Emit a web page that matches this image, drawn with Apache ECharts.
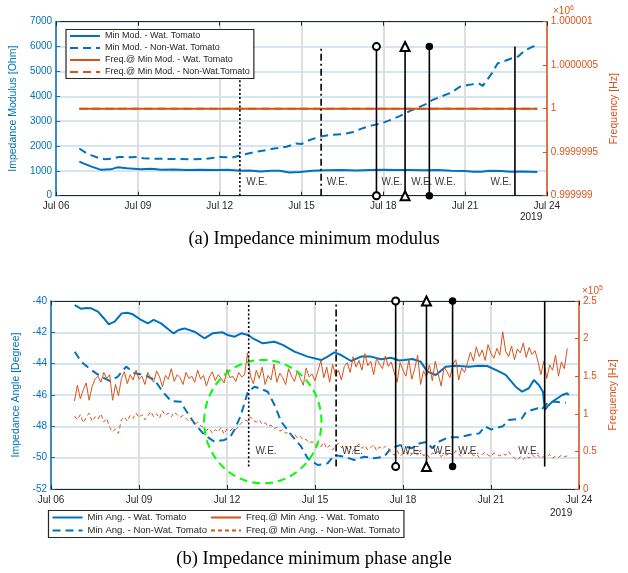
<!DOCTYPE html>
<html><head><meta charset="utf-8">
<script src="https://cdn.jsdelivr.net/npm/echarts@6/dist/echarts.min.js"></script>
<style>html,body{margin:0;padding:0;background:#fff}#c{width:628px;height:573px}</style>
</head><body><div id="c"></div>
<script>
// ================= DATA =================
// x values are days of July 2019
const xTickMonth = 'Jul';
const xMin = 6, xMax = 24, xStep = 3;

// Panel (a) : minimum modulus [Ohm]
const modWatDays = [6.85,7.0,7.3,7.65,8.0,8.25,8.6,9.1,9.5,9.85,10.3,10.8,11.3,11.8,12.3,12.75,13.1,13.5,13.9,14.2,14.55,14.95,15.4,15.9,16.5,17.0,17.5,18.0,18.5,19.0,19.5,20.0,20.5,21.0,21.3,21.6,21.9,22.3,22.7,23.1,23.65];
const modWat     = [1370,1300,1170,1040,1060,1140,1100,1060,1085,1040,1050,1035,1045,1030,1040,1005,1010,970,1000,1005,930,955,1005,1020,1030,1015,1030,1040,1030,1035,1020,1030,1000,990,960,960,1005,990,965,970,950];
const modNonWatDays = [6.85,7.1,7.3,7.55,7.8,8.1,8.3,8.7,9.0,9.2,9.6,10.0,10.5,11.0,11.5,12.0,12.5,12.9,13.35,13.7,14.0,14.45,14.8,15.0,15.3,15.7,16.1,16.5,16.9,17.2,17.6,17.9,18.2,18.6,19.0,19.3,19.6,19.8,20.1,20.5,20.8,21.1,21.5,21.65,21.85,22.0,22.2,22.4,22.7,22.95,23.2,23.45,23.65];
const modNonWat     = [1900,1720,1620,1520,1470,1500,1560,1550,1560,1510,1490,1480,1475,1460,1480,1560,1545,1660,1770,1830,1900,1970,2100,2080,2240,2380,2450,2480,2560,2700,2830,2900,3020,3200,3420,3560,3700,3850,3980,4150,4380,4450,4520,4420,4720,4950,5330,5400,5520,5600,5850,5980,6060];
// frequency at min modulus [Hz]
const freqModDays   = [6.85, 23.65];
const freqModWat    = [1000000, 1000000];
const freqModNonWat = [1000000, 1000000];

// Panel (b) : minimum phase angle [deg]
const angWatDays = [6.81,7.03,7.2,7.37,7.6,7.8,7.97,8.17,8.41,8.6,8.79,9.07,9.3,9.5,9.75,10.0,10.18,10.35,10.55,10.89,11.23,11.51,11.85,12.02,12.26,12.49,12.71,12.88,13.22,13.62,13.9,14.3,14.75,15.21,15.43,15.66,15.89,16.23,16.57,16.91,17.25,17.59,17.87,18.04,18.32,18.6,18.83,19.12,19.46,19.8,20.25,20.59,20.87,21.16,21.5,21.84,22.06,22.29,22.46,22.63,22.77,22.84,22.92,23.09,23.43,23.6,23.65];
const angWat     = [-40.26,-40.5,-40.45,-40.47,-40.68,-41.1,-41.49,-41.32,-40.79,-40.75,-40.85,-41.21,-41.43,-41.21,-41.43,-41.8,-42.07,-41.85,-41.75,-41.96,-42.38,-42.06,-42.0,-42.17,-42.28,-42.06,-42.17,-42.38,-42.7,-42.6,-42.8,-43.23,-43.55,-43.77,-43.55,-43.28,-43.45,-43.83,-43.55,-43.55,-43.72,-43.62,-43.8,-43.77,-43.7,-43.87,-44.51,-44.72,-44.19,-44.13,-44.19,-44.13,-44.15,-44.4,-44.72,-45.47,-45.79,-45.57,-45.04,-45.36,-45.79,-46.96,-46.74,-46.43,-46.0,-45.89,-46.0];
const angNonWatDays = [6.81,7.03,7.37,7.71,8.0,8.28,8.56,8.85,9.19,9.53,9.81,10.09,10.43,10.55,10.89,11.23,11.57,11.91,12.1,12.26,12.45,12.6,12.71,12.94,13.15,13.39,13.62,13.85,14.19,14.53,14.75,15.09,15.43,15.66,16.0,16.34,16.68,17.02,17.36,17.59,17.9,18.3,18.55,18.8,19.0,19.2,19.55,19.9,20.25,20.6,20.8,21.0,21.4,21.6,22.05,22.2,22.6,22.7,22.97,23.2,23.55];
const angNonWat     = [-43.24,-43.87,-44.4,-44.83,-45.1,-44.83,-44.19,-44.61,-44.72,-45.04,-45.79,-46.38,-46.43,-46.85,-47.81,-48.55,-48.98,-48.87,-48.7,-48.2,-47.4,-46.5,-45.8,-45.47,-45.6,-45.79,-46.64,-47.7,-48.55,-49.3,-50.04,-50.47,-50.36,-49.83,-49.94,-50.15,-49.94,-50.04,-49.94,-49.4,-49.2,-49.4,-49.1,-49.0,-49.4,-49.0,-48.7,-48.7,-48.55,-48.45,-48.0,-48.2,-48.0,-47.6,-47.5,-47.07,-46.85,-46.96,-46.43,-46.43,-46.5];
// frequency at min angle [kHz], sampled every 0.1 day from Jul 6.8
const freqAngStart = 6.8, freqAngStep = 0.1;
const freqAngWat = [117,138,120,132,141,118,136,146, 150,142,155,147, 152,118,139,124, 147,156,140,152,145,158,146,
 150,139,155,147,142,157,149,136,151,146,160,143,152,148,139,155,147,150,142,158,146,151,137,149,156,144,152,147,141,159,148,150,143,155,149,
 152,181,150,
 140,158,147,162,139,151,145,166,142,154,148,139,160,150,143,157,147,138,161,149,153,144,
 157,171,148,162,142,166,151,158,145,163,
 168,155,176,162,171,158,180,164,170,152,174,166,160,177,163,169,
 155,142,168,158,150,172,146,160,178,139,157,149,165,144,170,153,137,162,156,148,166,
 172,145,161,155,168,
 182,170,189,176,185,171,192,180,174,187,178,209,183,176,190,172,186,181,194,175,188,179,184,170,
 152,170,147,165,158,178,150,169,160,187];
const freqAngNonWat = [97,92,99,88,95,101,90,96,93,100,89,94, 82,76,80,74,
 92,96,90,98,94,101,95,99,92,97,103,96,100,94,104,98,101,96,102,99,95,98,
 94,90,92,86,89,84,82, 78,81,74,79,76,82,73,80,77,81,79, 84,88,92,90,96,91,
 89,92,86,88,83,85,80,82,77,79,74,76,71,73,68,70,65,66,61,63,58,
 60,56,62,54,58,52,57,61,55,59,53,57,50,56,60,54,58,52,55,59,51,56,53,57,54,
 48,45,51,44,47,50,43,46,49,45,52,44,47,42,48,46,50,43,47,45,49,44,51,46,43,48,45,50,44,47,42,46,49,45,43,48,46,44,47,45,50,44,
 41,38,43,39, 44,41,46,42,45,40,44,43,46,41,44,42,45,43,44];

// Event markers (day of July)
const evDotted = 12.74, evDashDot = 15.72, evCircle = 17.75, evTriangle = 18.8, evDot = 19.69, evSolid = 22.83;
const evSpanA = [0, 6000];
const evSpanB = [-50.57, -40];
const evDottedTopB = -40.1;
// "W.E." annotation positions (day)
const weDays = [12.92, 15.87, 17.88, 18.97, 19.83, 21.88];
const weLevelA = 550, weLevelB = -49.62;
// highlighted region ellipse in panel (b): centre day, centre deg, radius days, radius deg
const ellipseB = [13.22, -47.7, 2.0, 3.94];

// ================= CHART =================
const BLUE = '#0072BD', ORANGE = '#D95319', DARK = '#262626';
const FONT = 'Liberation Sans, Arial, Helvetica, sans-serif';
const zip = (xs, ys) => xs.map((x, i) => [x, ys[i]]);
const seq = (start, step, vals) => vals.map((v, i) => [+(start + i * step).toFixed(3), v]);
const pad2 = v => String(v).padStart(2, '0');

function xAx(g, pos) {
  const bottom = pos === 'bottom';
  return {
    gridIndex: g, type: 'value', min: xMin, max: xMax, interval: xStep, position: pos,
    axisLine: { show: true, onZero: false, lineStyle: { color: DARK, width: 1 } },
    axisTick: { show: true, inside: true, length: 4, lineStyle: { color: DARK, width: 1 } },
    axisLabel: { show: bottom, formatter: v => xTickMonth + ' ' + pad2(v), color: DARK, fontSize: 10, margin: 6, fontFamily: FONT },
    splitLine: { show: bottom, lineStyle: { color: '#dedede', width: 2 } }
  };
}
function yAx(g, pos, min, max, interval, name, gap, color, fmt, split) {
  return {
    gridIndex: g, type: 'value', position: pos, min, max, interval,
    name, nameLocation: 'middle', nameGap: gap, nameRotate: 90,
    nameTextStyle: { color, fontSize: 10.5, fontFamily: FONT },
    axisLine: { show: true, onZero: false, lineStyle: { color, width: 1.5 } },
    axisTick: { show: true, inside: true, length: 4, lineStyle: { color, width: 1 } },
    axisLabel: { color, fontSize: 10, margin: 4, fontFamily: FONT, formatter: fmt },
    splitLine: { show: split, lineStyle: { color: '#d5e5f2', width: 2 } }
  };
}
const plain = v => String(v);
const mhz = v => String(parseFloat((v / 1e6).toFixed(7)));
const k5 = v => String(parseFloat((v / 100).toFixed(2)));

function dataLine(name, xi, yi, data, color, width, dash) {
  return { name, type: 'line', xAxisIndex: xi, yAxisIndex: yi, data, symbol: 'none', showSymbol: false,
    lineStyle: { color, width, type: dash || 'solid' }, itemStyle: { color }, z: 2, animation: false };
}
function evLine(xi, yi, d, span, dash, sym, size) {
  return { type: 'line', xAxisIndex: xi, yAxisIndex: yi, data: [[d, span[0]], [d, span[1]]],
    symbol: sym || 'none', symbolSize: size || 0, showSymbol: !!sym, clip: false, silent: true,
    lineStyle: { color: '#000', width: 1.6, type: dash }, itemStyle: { color: '#000', borderColor: '#000', borderWidth: 1.5 },
    z: 3, animation: false };
}
function weSeries(xi, yi, level) {
  return { type: 'scatter', xAxisIndex: xi, yAxisIndex: yi, data: weDays.map(d => [d, level]), symbolSize: 1,
    itemStyle: { color: 'rgba(0,0,0,0)' }, silent: true, z: 4,
    label: { show: true, formatter: 'W.E.', position: 'right', distance: 1, color: '#000', fontSize: 10, fontFamily: FONT } };
}

const dotted = [2, 2.2], dashDot = [7, 3, 2, 3];
const nA = ['Min Mod. - Wat. Tomato', 'Min Mod. - Non-Wat. Tomato', 'Freq.@ Min Mod. - Wat. Tomato', 'Freq.@ Min Mod. - Non-Wat.Tomato'];
const nB = ['Min Ang. - Wat. Tomato', 'Min Ang. - Non-Wat. Tomato', 'Freq.@ Min Ang. - Wat. Tomato', 'Freq.@ Min Ang. - Non-Wat. Tomato'];

const chart = echarts.init(document.getElementById('c'), null, { renderer: 'canvas' });
const legendCommon = { orient: 'vertical', itemWidth: 30, itemHeight: 8, itemGap: 3,
  padding: [2, 4, 2, 3], borderColor: DARK, borderWidth: 1.2, backgroundColor: '#fff', borderRadius: 0,
  itemStyle: { opacity: 0, borderWidth: 0 }, z: 10 };
const option = {
  animation: false,
  backgroundColor: '#fff',
  textStyle: { fontFamily: FONT },
  title: [
    { text: '(a) Impedance minimum modulus', left: 'center', top: 230, padding: 0,
      textStyle: { fontFamily: 'Liberation Serif, Times New Roman, serif', fontSize: 18.5, fontWeight: 'normal', color: '#000' } },
    { text: '(b) Impedance minimum phase angle', left: 'center', top: 550, padding: 0,
      textStyle: { fontFamily: 'Liberation Serif, Times New Roman, serif', fontSize: 18.5, fontWeight: 'normal', color: '#000' } }
  ],
  grid: [
    { left: 54.5, top: 21.7, width: 495, height: 174, show: true, borderColor: DARK, borderWidth: 1, backgroundColor: '#fff' },
    { left: 51, top: 301, width: 528, height: 188, show: true, borderColor: DARK, borderWidth: 1, backgroundColor: '#fff' }
  ],
  xAxis: [xAx(0, 'bottom'), xAx(0, 'top'), xAx(1, 'bottom'), xAx(1, 'top')],
  yAxis: [
    yAx(0, 'left', 0, 7000, 1000, 'Impedance Modulus [Ohm]', 29, BLUE, plain, true),
    yAx(0, 'right', 999999, 1000001, 0.5, 'Frequency [Hz]', 58, ORANGE, mhz, false),
    yAx(1, 'left', -52, -40, 2, 'Impedance Angle [Degree]', 26, BLUE, plain, true),
    yAx(1, 'right', 0, 250, 50, 'Frequency [Hz]', 28, ORANGE, k5, false)
  ],
  legend: [
    Object.assign({}, legendCommon, { data: nA, left: 66, top: 29.5,
      textStyle: { fontSize: 9, color: DARK, fontFamily: FONT } }),
    Object.assign({}, legendCommon, { data: nB, left: 48.5, top: 510.5, height: 27,
      textStyle: { fontSize: 9.5, color: DARK, fontFamily: FONT } })
  ],
  series: [
    dataLine(nA[0], 0, 0, zip(modWatDays, modWat), BLUE, 2),
    dataLine(nA[1], 0, 0, zip(modNonWatDays, modNonWat), BLUE, 2, [8, 5]),
    dataLine(nA[2], 0, 1, zip(freqModDays, freqModWat), ORANGE, 2),
    dataLine(nA[3], 0, 1, zip(freqModDays, freqModNonWat), ORANGE, 2, [8, 5]),
    evLine(0, 0, evDotted, evSpanA, dotted),
    evLine(0, 0, evDashDot, evSpanA, dashDot),
    evLine(0, 0, evCircle, evSpanA, 'solid', 'emptyCircle', 7),
    evLine(0, 0, evTriangle, evSpanA, 'solid', 'emptyTriangle', 9),
    evLine(0, 0, evDot, evSpanA, 'solid', 'circle', 6),
    evLine(0, 0, evSolid, evSpanA, 'solid'),
    weSeries(0, 0, weLevelA),

    dataLine(nB[0], 2, 2, zip(angWatDays, angWat), BLUE, 2),
    dataLine(nB[1], 2, 2, zip(angNonWatDays, angNonWat), BLUE, 2, [8, 5]),
    dataLine(nB[2], 2, 3, seq(freqAngStart, freqAngStep, freqAngWat), ORANGE, 1),
    dataLine(nB[3], 2, 3, seq(freqAngStart, freqAngStep, freqAngNonWat), ORANGE, 1, [4, 3]),
    evLine(2, 2, evDotted, [evSpanB[0], evDottedTopB], dotted),
    evLine(2, 2, evDashDot, evSpanB, dashDot),
    evLine(2, 2, evCircle, evSpanB, 'solid', 'emptyCircle', 7),
    evLine(2, 2, evTriangle, evSpanB, 'solid', 'emptyTriangle', 9),
    evLine(2, 2, evDot, evSpanB, 'solid', 'circle', 6),
    evLine(2, 2, evSolid, evSpanB, 'solid'),
    weSeries(2, 2, weLevelB),
    { type: 'custom', xAxisIndex: 2, yAxisIndex: 2, data: [ellipseB], silent: true, clip: false, z: 3,
      renderItem: (params, api) => {
        const c = api.coord([api.value(0), api.value(1)]);
        const e = api.coord([api.value(0) + api.value(2), api.value(1) - api.value(3)]);
        return { type: 'ellipse', shape: { cx: c[0], cy: c[1], rx: Math.abs(e[0] - c[0]), ry: Math.abs(e[1] - c[1]) },
          style: { fill: 'none', stroke: '#00FF00', lineWidth: 2, lineDash: [8, 5] } };
      } }
  ],
  graphic: [
    { type: 'text', left: 520, top: 212, style: { text: '2019', fill: DARK, font: '10px ' + FONT } },
    { type: 'text', left: 550, top: 508, style: { text: '2019', fill: DARK, font: '10px ' + FONT } },
    { type: 'text', left: 553, top: 5, style: { text: '{a|×10}{b|6}', fill: ORANGE,
        rich: { a: { fontSize: 10, fill: ORANGE, fontFamily: FONT }, b: { fontSize: 7, fill: ORANGE, fontFamily: FONT, verticalAlign: 'top', padding: [0, 0, 6, 0] } } } },
    { type: 'text', left: 582, top: 285, style: { text: '{a|×10}{b|5}', fill: ORANGE,
        rich: { a: { fontSize: 10, fill: ORANGE, fontFamily: FONT }, b: { fontSize: 7, fill: ORANGE, fontFamily: FONT, verticalAlign: 'top', padding: [0, 0, 6, 0] } } } }
  ]
};
chart.setOption(option);
</script>
</body></html>
